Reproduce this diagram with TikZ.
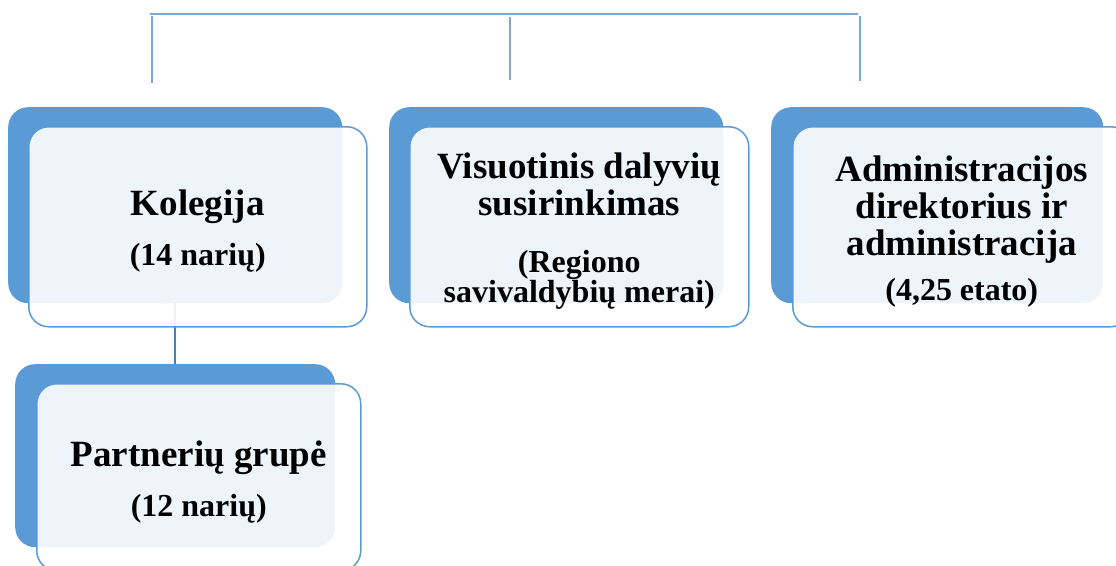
\documentclass[tikz,border=0pt]{standalone}
\usepackage{fontspec}
\setmainfont{Liberation Serif}
\definecolor{boxblue}{HTML}{5B9BD5}
\definecolor{lineblue}{HTML}{7BA7D9}
\definecolor{linkblue}{HTML}{4A7DB5}
\newcommand\subtitlefont{\fontsize{32}{30}\selectfont}
\newcommand\topstrut{\rule{0pt}{35pt}}
\begin{document}
\begin{tikzpicture}
[x=1pt,y=-1pt,
  backdecorate/.style={shape=rectangle,rounded corners=20pt,fill=boxblue,
    anchor=north west,inner sep=0pt},%
  frontdecorate/.style={shape=rectangle,rounded corners=20pt,draw=boxblue,
    line width=1.5pt,fill=white,fill opacity=0.9,text opacity=1,
    anchor=north west,inner sep=0pt,align=center,
    font=\bfseries\fontsize{37}{37}\selectfont},%
  linedecorate/.style={-,draw=lineblue,line width=1.2pt},%
  linkdecorate/.style={-,draw=linkblue,line width=2.5pt}]
\useasboundingbox (0,0) rectangle (1116,565);
%% back boxes
\foreach \nodename/\x/\y/\w/\h in {
  kolegijaB/8/107/334/196, susirinkimasB/389/107/334/196,
  administracijaB/771/107/332/196, partneriaiB/15/364/320/183}
{
  \node (\nodename) at (\x,\y) [backdecorate,minimum width=\w pt,
    minimum height=\h pt] {};
}
%% link under the front boxes
\path (kolegijaB.south) edge[linkdecorate] (partneriaiB.north);
%% front boxes
\node (kolegija) at (28,126) [frontdecorate,minimum width=338pt,
  minimum height=200pt]
  {\topstrut Kolegija\\[13pt]{\subtitlefont (14 narių)}};
\node (susirinkimas) at (409,126) [frontdecorate,minimum width=339pt,
  minimum height=200pt]
  {\topstrut Visuotinis dalyvių\\susirinkimas\\[20pt]{\subtitlefont (Regiono}\\[-7pt]
   {\subtitlefont savivaldybių merai)}};
\node (administracija) at (792,126) [frontdecorate,minimum width=338pt,
  minimum height=200pt]
  {\topstrut Administracijos\\direktorius ir\\administracija\\[8pt]
   {\subtitlefont (4,25 etato)}};
\node (partneriai) at (36,383) [frontdecorate,minimum width=324pt,
  minimum height=187pt]
  {\topstrut Partnerių grupė\\[13pt]{\subtitlefont (12 narių)}};
%% top lines
\coordinate (h1) at (150,14);
\coordinate (h2) at (858,14);
\foreach \nodename/\x/\y in {t1/152/16, t2/510/17, t3/860/16,
  d1/152/83, d2/510/80, d3/860/81}
{
  \coordinate (\nodename) at (\x,\y);
}
\path
\foreach \startnode/\endnode in {h1/h2, t1/d1, t2/d2, t3/d3} {
  (\startnode) edge[linedecorate] (\endnode)
};
\end{tikzpicture}
\end{document}
